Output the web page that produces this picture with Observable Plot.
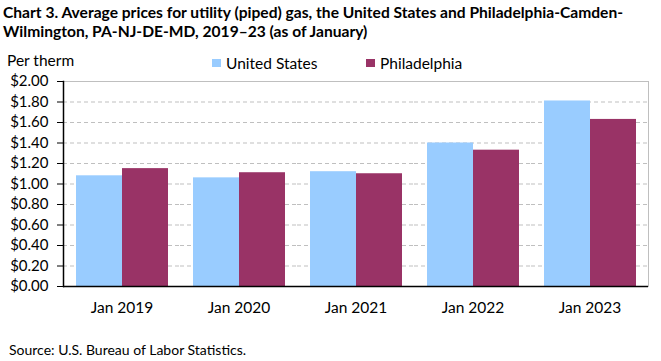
<!DOCTYPE html>
<html>
<head>
<meta charset="utf-8">
<script src="https://cdn.jsdelivr.net/npm/d3@7"></script>
<script src="https://cdn.jsdelivr.net/npm/@observablehq/plot@0.6"></script>
<style>
  body { margin:0; background:#fff; font-family: Lato, "Open Sans", sans-serif; color:#000; }
  #wrap { position:relative; width:661px; height:361px; overflow:hidden; }
  #title { position:absolute; left:3px; top:3px; font-weight:bold; font-size:15.6px; line-height:19px; white-space:nowrap; }
  #unit { position:absolute; left:7px; top:51px; font-size:15.5px; line-height:18px; }
  .item { position:absolute; top:54px; font-size:15.5px; line-height:18px; display:flex; align-items:center; white-space:nowrap; }
  .sw { display:inline-block; width:9px; height:8px; margin-right:5px; }
  #source { position:absolute; left:9px; top:341px; font-size:14px; line-height:17px; }
  #chart { position:absolute; left:0; top:0; }
</style>
</head>
<body>
<div id="wrap">
  <div id="chart"></div>
  <div id="title">Chart 3. Average prices for utility (piped) gas, the United States and Philadelphia-Camden-<br>Wilmington, PA-NJ-DE-MD, 2019–23 (as of January)</div>
  <div id="unit">Per therm</div>
  <div id="legend"></div>
  <div id="source">Source: U.S. Bureau of Labor Statistics.</div>
</div>
<script>
const years = ["2019", "2020", "2021", "2022", "2023"];
const series = ["United States", "Philadelphia"];
const usValues = [1.08, 1.06, 1.12, 1.40, 1.81];
const phlValues = [1.15, 1.11, 1.10, 1.33, 1.63];
const yTicks = [0, 0.2, 0.4, 0.6, 0.8, 1.0, 1.2, 1.4, 1.6, 1.8, 2.0];
const colors = ["#99CCFF", "#993366"];
const legendLeft = [212, 366];

const data = years.flatMap((yr, i) => [
  {year: yr, series: series[0], value: usValues[i]},
  {year: yr, series: series[1], value: phlValues[i]}
]);

const legend = document.getElementById("legend");
series.forEach((s, i) => {
  const it = document.createElement("span");
  it.className = "item";
  it.style.left = legendLeft[i] + "px";
  it.innerHTML = `<span class="sw" style="background:${colors[i]}"></span>${s}`;
  legend.appendChild(it);
});

const chart = Plot.plot({
  width: 661,
  height: 361,
  marginTop: 81,
  marginBottom: 75,
  marginLeft: 62,
  marginRight: 12,
  style: {fontFamily: "Lato, 'Open Sans', sans-serif", fontSize: "15px", color: "#000", background: "transparent"},
  fx: {domain: years, padding: 0, label: null},
  x: {domain: series, paddingInner: 0, paddingOuter: 0.25, axis: null},
  y: {domain: [0, 2], label: null, axis: null},
  color: {domain: series, range: colors},
  marks: [
    Plot.ruleY(yTicks.slice(1, -1), {stroke: "#BFBFBF", strokeDasharray: "4,3"}),
    Plot.frame({stroke: "#BFBFBF", facet: "super"}),
    Plot.barY(data, {fx: "year", x: "series", y: "value", fill: "series"}),
    Plot.ruleY([0], {stroke: "#000", strokeWidth: 1.5}),
    Plot.frame({anchor: "left", stroke: "#000", strokeWidth: 1.5, facet: "super"}),
    Plot.axisY({ticks: yTicks, tickFormat: d => "$" + d.toFixed(2), tickSize: 6, tickPadding: 9, label: null, stroke: "#000", fill: "#000", fontSize: 15}),
    Plot.axisFx({anchor: "bottom", tickSize: 0, tickPadding: 15, label: null, tickFormat: d => "Jan " + d, fill: "#000", fontSize: 15.5})
  ]
});
document.getElementById("chart").appendChild(chart);
</script>
</body>
</html>
